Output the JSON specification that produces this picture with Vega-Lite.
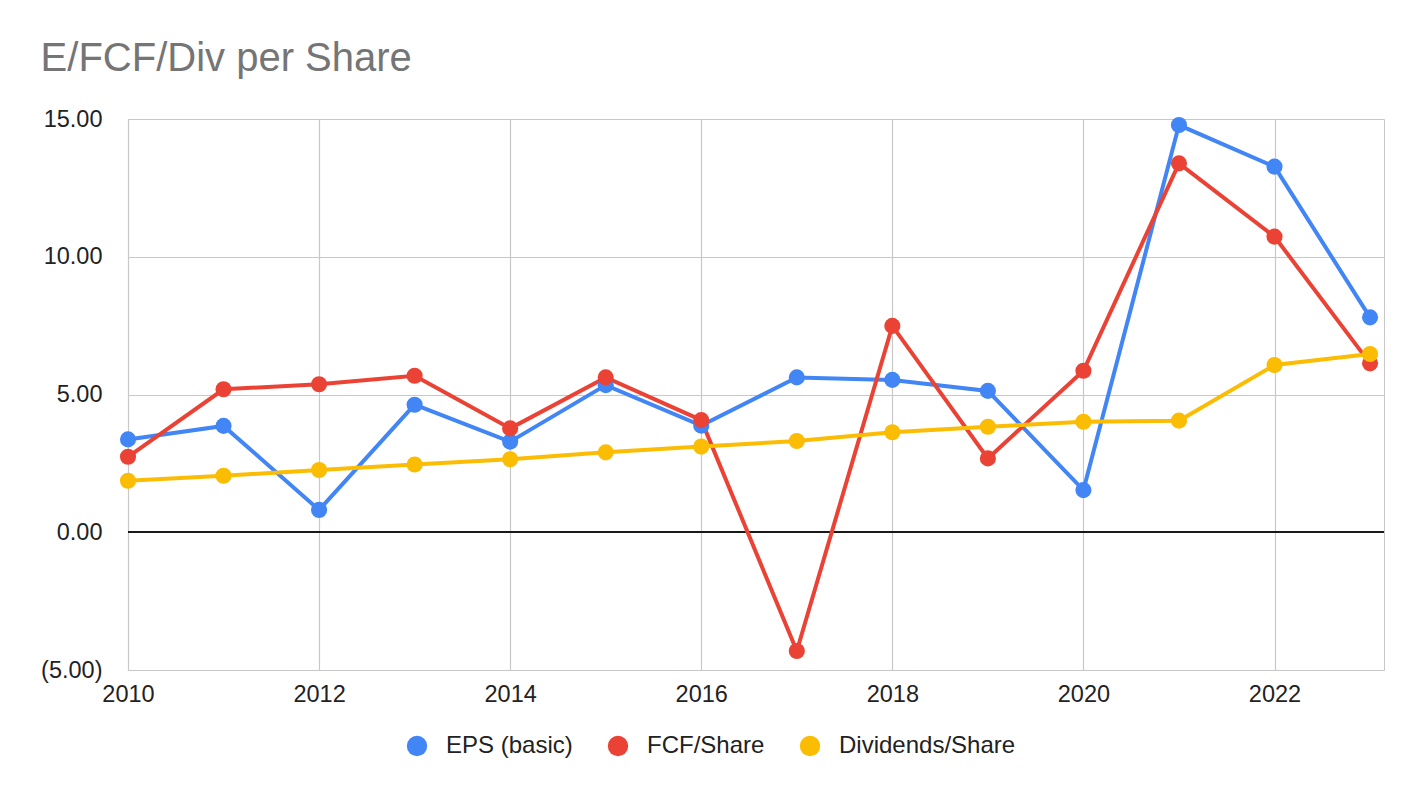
{
  "$schema": "https://vega.github.io/schema/vega-lite/v6.json",
  "autosize": "none",
  "padding": {"left": 128, "top": 119, "right": 40, "bottom": 128},
  "width": 1256,
  "height": 551,
  "background": "white",
  "title": {
    "text": "E/FCF/Div per Share",
    "anchor": "start",
    "dx": 0,
    "offset": -4,
    "baseline": "alphabetic",
    "fontSize": 40,
    "font": "Liberation Sans",
    "fontWeight": "normal",
    "color": "#757575"
  },
  "data": {
    "values": [
      {"year": 2010, "series": "EPS (basic)", "value": 3.37},
      {"year": 2011, "series": "EPS (basic)", "value": 3.86},
      {"year": 2012, "series": "EPS (basic)", "value": 0.81},
      {"year": 2013, "series": "EPS (basic)", "value": 4.63},
      {"year": 2014, "series": "EPS (basic)", "value": 3.29},
      {"year": 2015, "series": "EPS (basic)", "value": 5.34},
      {"year": 2016, "series": "EPS (basic)", "value": 3.87},
      {"year": 2017, "series": "EPS (basic)", "value": 5.62},
      {"year": 2018, "series": "EPS (basic)", "value": 5.53},
      {"year": 2019, "series": "EPS (basic)", "value": 5.13},
      {"year": 2020, "series": "EPS (basic)", "value": 1.53},
      {"year": 2021, "series": "EPS (basic)", "value": 14.78},
      {"year": 2022, "series": "EPS (basic)", "value": 13.27},
      {"year": 2023, "series": "EPS (basic)", "value": 7.8},
      {"year": 2010, "series": "FCF/Share", "value": 2.74},
      {"year": 2011, "series": "FCF/Share", "value": 5.19},
      {"year": 2012, "series": "FCF/Share", "value": 5.37},
      {"year": 2013, "series": "FCF/Share", "value": 5.68},
      {"year": 2014, "series": "FCF/Share", "value": 3.77},
      {"year": 2015, "series": "FCF/Share", "value": 5.62},
      {"year": 2016, "series": "FCF/Share", "value": 4.07},
      {"year": 2017, "series": "FCF/Share", "value": -4.31},
      {"year": 2018, "series": "FCF/Share", "value": 7.49},
      {"year": 2019, "series": "FCF/Share", "value": 2.68},
      {"year": 2020, "series": "FCF/Share", "value": 5.86},
      {"year": 2021, "series": "FCF/Share", "value": 13.39},
      {"year": 2022, "series": "FCF/Share", "value": 10.73},
      {"year": 2023, "series": "FCF/Share", "value": 6.13},
      {"year": 2010, "series": "Dividends/Share", "value": 1.87},
      {"year": 2011, "series": "Dividends/Share", "value": 2.05},
      {"year": 2012, "series": "Dividends/Share", "value": 2.26},
      {"year": 2013, "series": "Dividends/Share", "value": 2.46},
      {"year": 2014, "series": "Dividends/Share", "value": 2.65},
      {"year": 2015, "series": "Dividends/Share", "value": 2.9},
      {"year": 2016, "series": "Dividends/Share", "value": 3.11},
      {"year": 2017, "series": "Dividends/Share", "value": 3.31},
      {"year": 2018, "series": "Dividends/Share", "value": 3.63},
      {"year": 2019, "series": "Dividends/Share", "value": 3.83},
      {"year": 2020, "series": "Dividends/Share", "value": 4.01},
      {"year": 2021, "series": "Dividends/Share", "value": 4.05},
      {"year": 2022, "series": "Dividends/Share", "value": 6.07},
      {"year": 2023, "series": "Dividends/Share", "value": 6.47}
    ]
  },
  "encoding": {
    "x": {
      "field": "year",
      "type": "quantitative",
      "title": null,
      "scale": {"domain": [2010, 2023.146], "nice": false, "zero": false},
      "axis": {
        "values": [2010, 2012, 2014, 2016, 2018, 2020, 2022],
        "format": "d",
        "labelFlush": false,
        "labelPadding": 12
      }
    },
    "y": {
      "field": "value",
      "type": "quantitative",
      "title": null,
      "scale": {"domain": [-5, 15], "nice": false},
      "axis": {
        "values": [-5, 0, 5, 10, 15],
        "labelExpr": "datum.value < 0 ? '(' + format(-datum.value, '.2f') + ')' : format(datum.value, '.2f')",
        "labelPadding": 26
      }
    }
  },
  "layer": [
    {
      "mark": {"type": "rule", "color": "#1a1a1a", "strokeWidth": 1},
      "encoding": {"y": {"datum": 0}, "x": null}
    },
    {
      "mark": {"type": "line", "strokeWidth": 4},
      "encoding": {
        "color": {
          "field": "series",
          "type": "nominal",
          "title": null,
          "scale": {
            "domain": ["EPS (basic)", "FCF/Share", "Dividends/Share"],
            "range": ["#4285F4", "#EA4335", "#FBBC04"]
          },
          "legend": {
            "orient": "none",
            "direction": "horizontal",
            "legendX": 277,
            "legendY": 615,
            "padding": 0,
            "symbolType": "circle",
            "symbolSize": 415,
            "symbolStrokeWidth": 0,
            "symbolOpacity": 1,
            "labelOffset": 17,
            "columnPadding": 33,
            "labelFontSize": 24,
            "labelFont": "Liberation Sans",
            "labelColor": "#222222",
            "labelLimit": 400
          }
        }
      }
    },
    {
      "mark": {"type": "circle", "size": 260, "opacity": 1},
      "encoding": {
        "color": {"field": "series", "type": "nominal"}
      }
    }
  ],
  "config": {
    "view": {"stroke": "#c8c8c8"},
    "axis": {
      "grid": true,
      "gridColor": "#c8c8c8",
      "gridWidth": 1.2,
      "domain": false,
      "ticks": false,
      "labelFont": "Liberation Sans",
      "labelFontSize": 23.5,
      "labelColor": "#222222"
    }
  }
}
